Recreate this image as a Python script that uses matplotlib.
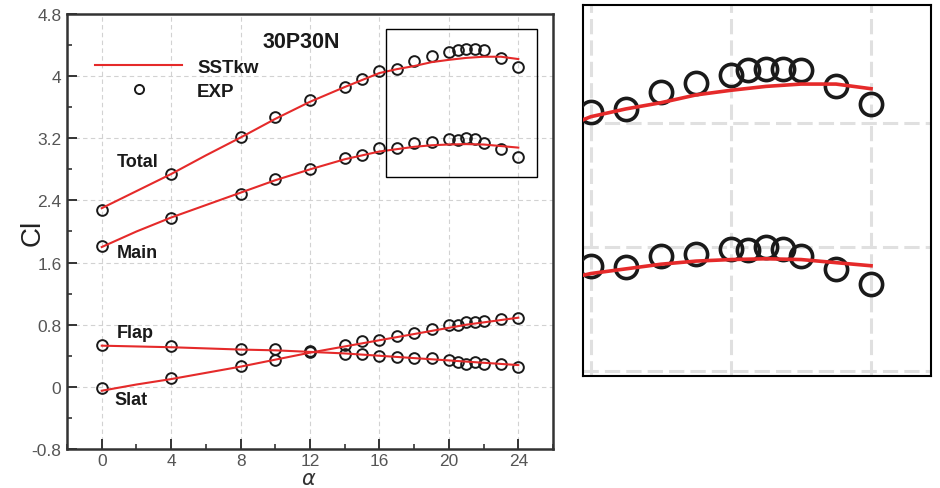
import matplotlib
matplotlib.use('Agg')
import matplotlib.pyplot as plt
from matplotlib.patches import Rectangle
from matplotlib.ticker import MultipleLocator

plt.rcParams['font.family'] = ['Liberation Sans', 'DejaVu Sans']
plt.rcParams['mathtext.fontset'] = 'dejavusans'

# experimental points
alpha_exp = [0, 4, 8, 10, 12, 14, 15, 16, 17, 18, 19, 20, 20.5, 21, 21.5, 22, 23, 24]
total_exp = [2.28, 2.74, 3.22, 3.48, 3.69, 3.86, 3.96, 4.07, 4.09, 4.20, 4.26, 4.31,
             4.34, 4.35, 4.35, 4.34, 4.24, 4.12]
main_exp = [1.81, 2.18, 2.48, 2.68, 2.80, 2.94, 2.98, 3.08, 3.07, 3.14, 3.155, 3.19,
            3.18, 3.20, 3.19, 3.14, 3.06, 2.96]
slat_exp = [-0.01, 0.12, 0.27, 0.35, 0.46, 0.54, 0.585, 0.605, 0.65, 0.69, 0.745, 0.79,
            0.80, 0.84, 0.84, 0.85, 0.875, 0.88]
flap_exp = [0.54, 0.52, 0.49, 0.49, 0.45, 0.42, 0.42, 0.40, 0.38, 0.37, 0.37, 0.35,
            0.32, 0.30, 0.315, 0.29, 0.29, 0.26]

# SST k-w computation
alpha_sst = [0, 2, 4, 6, 8, 10, 12, 14, 16, 17, 18, 19, 20, 21, 22, 23, 24]
total_sst = [2.30, 2.52, 2.74, 2.98, 3.21, 3.45, 3.67, 3.86, 4.04, 4.09, 4.13, 4.18,
             4.21, 4.235, 4.25, 4.25, 4.22]
main_sst = [1.80, 2.00, 2.18, 2.34, 2.50, 2.66, 2.80, 2.93, 3.03, 3.06, 3.09, 3.11,
            3.12, 3.125, 3.12, 3.10, 3.08]
slat_sst = [-0.05, 0.03, 0.10, 0.18, 0.26, 0.35, 0.44, 0.52, 0.60, 0.64, 0.68, 0.72,
            0.76, 0.80, 0.83, 0.86, 0.89]
flap_sst = [0.53, 0.52, 0.51, 0.495, 0.48, 0.47, 0.45, 0.43, 0.40, 0.385, 0.37, 0.355,
            0.34, 0.325, 0.31, 0.295, 0.28]

red = '#e52a2a'
ring = '#1a1a1a'

fig = plt.figure(figsize=(9.4, 4.89), dpi=100)
ax = fig.add_axes([0.0713, 0.0798, 0.5170, 0.8895])
ax2 = fig.add_axes([0.620, 0.229, 0.370, 0.759])

series = [(total_exp, total_sst), (main_exp, main_sst), (slat_exp, slat_sst), (flap_exp, flap_sst)]

for i, (ex, sst) in enumerate(series):
    ax.plot(alpha_exp, ex, 'o', ms=7.7, mfc='none', mec=ring, mew=1.4, zorder=3,
            label='EXP' if i == 0 else None)
    ax.plot(alpha_sst, sst, '-', color=red, lw=1.5, zorder=4,
            label='SSTkw' if i == 0 else None)
    ax2.plot(alpha_exp, ex, 'o', ms=16, mfc='none', mec=ring, mew=2.6, zorder=3)
    ax2.plot(alpha_sst, sst, '-', color=red, lw=2.6, zorder=4)

# main panel
ax.set_xlim(-2, 26)
ax.set_ylim(-0.8, 4.8)
ax.xaxis.set_major_locator(MultipleLocator(4))
ax.xaxis.set_minor_locator(MultipleLocator(2))
ax.yaxis.set_minor_locator(MultipleLocator(0.4))
ax.set_yticks([-0.8, 0, 0.8, 1.6, 2.4, 3.2, 4, 4.8])
ax.set_yticklabels(['-0.8', '0', '0.8', '1.6', '2.4', '3.2', '4', '4.8'])
ax.tick_params(which='both', direction='in', color='#333333', labelcolor='#555555',
               labelsize=12.5)
ax.tick_params(which='major', length=7, width=1.4)
ax.tick_params(which='minor', length=3.5, width=1.2)
ax.tick_params(axis='x', pad=3)
ax.tick_params(axis='y', pad=4)
ax.grid(True, which='major', color='#d2d2d2', lw=0.8, ls=(0, (4, 3)))
ax.set_axisbelow(True)
for s in ax.spines.values():
    s.set_color('#333333')
    s.set_linewidth(1.8)

ax.set_ylabel('Cl', fontsize=20, color='#222222', va='center')
ax.yaxis.set_label_coords(-0.070, 0.499)
ax.set_xlabel(r'$\alpha$', fontsize=15, color='#333333', va='center')
ax.xaxis.set_label_coords(0.497, -0.067)

ax.text(11.5, 4.45, '30P30N', fontsize=15.5, fontweight='bold', ha='center', va='center',
        color='#1a1a1a')
ax.text(0.86, 2.895, 'Total', fontsize=13, fontweight='bold', va='center', color='#1a1a1a')
ax.text(0.86, 1.724, 'Main', fontsize=13, fontweight='bold', va='center', color='#1a1a1a')
ax.text(0.86, 0.694, 'Flap', fontsize=13, fontweight='bold', va='center', color='#1a1a1a')
ax.text(0.76, -0.164, 'Slat', fontsize=13, fontweight='bold', va='center', color='#1a1a1a')

h, l = ax.get_legend_handles_labels()
order = [l.index('SSTkw'), l.index('EXP')]
leg = ax.legend([h[k] for k in order], [l[k] for k in order], loc='upper left',
                bbox_to_anchor=(0.058, 0.897), frameon=False, borderpad=0,
                borderaxespad=0, handlelength=4.64, handletextpad=0.8,
                labelspacing=0.35, markerscale=0.85, numpoints=1,
                prop={'weight': 'bold', 'size': 13.5})
for t in leg.get_texts():
    t.set_color('#1a1a1a')

ax.add_patch(Rectangle((16.4, 2.70), 8.66, 1.91, fill=False, ec='black', lw=1.0, zorder=5))

# zoomed panel
ax2.set_xlim(15.77, 25.7)
ax2.set_ylim(2.37, 4.76)
ax2.set_xticks([16, 20, 24])
ax2.set_yticks([2.4, 3.2, 4.0])
ax2.tick_params(which='both', length=0, labelbottom=False, labelleft=False)
ax2.grid(True, color='#e0e0e0', lw=2.2, ls=(0, (5, 2)))
ax2.set_axisbelow(True)
for s in ax2.spines.values():
    s.set_color('black')
    s.set_linewidth(1.5)

fig.savefig('out.png', dpi=100)
